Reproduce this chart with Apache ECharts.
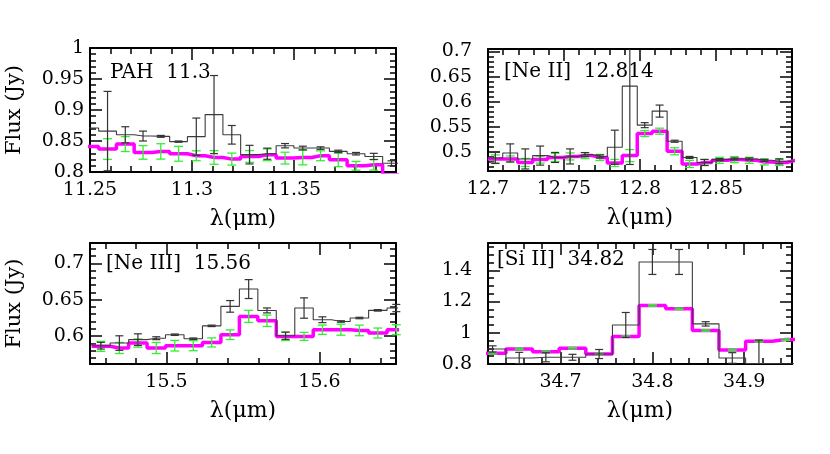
<!DOCTYPE html>
<html>
<head>
<meta charset="utf-8">
<script src="https://cdn.jsdelivr.net/npm/echarts@6/dist/echarts.min.js"></script>
<style>
  html, body { margin: 0; padding: 0; background: #fff; }
  #chart { width: 830px; height: 454px; }
</style>
</head>
<body>
<div id="chart"></div>
<script>
// PAH 11.3
const pahWave = [11.2499, 11.2586, 11.2673, 11.2760, 11.2847, 11.2934, 11.3021, 11.3108, 11.3195,
  11.3282, 11.3369, 11.3456, 11.3543, 11.3630, 11.3717, 11.3804, 11.3891, 11.3978];
const pahFlux = [0.871, 0.866, 0.860, 0.858, 0.8575, 0.849, 0.857, 0.8926, 0.860,
  0.828, 0.8295, 0.8424, 0.8386, 0.8386, 0.8332, 0.8295, 0.8251, 0.814];
const pahErr = [0, 0.064, 0.013, 0.008, 0.0015, 0.001, 0.030, 0.063, 0.015,
  0.015, 0.009, 0.0035, 0.003, 0.002, 0.002, 0.002, 0.005, 0.004];
const pahModel = [0.8413, 0.837, 0.845, 0.8316, 0.8332, 0.8294, 0.8262, 0.8235, 0.8208,
  0.8251, 0.8278, 0.8224, 0.8235, 0.8262, 0.8197, 0.810, 0.8116, 0.795];
const pahModelErr = [0, 0.0167, 0.012, 0.011, 0.0124, 0.012, 0.008, 0.011, 0.0097,
  0.0095, 0.0095, 0.0095, 0.012, 0.008, 0.011, 0.007, 0.0086, 0];

// [Ne II] 12.814
const ne2Wave = [12.7048, 12.7146, 12.7245, 12.7343, 12.7441, 12.7540, 12.7638, 12.7736, 12.7834,
  12.7933, 12.8031, 12.8129, 12.8228, 12.8326, 12.8424, 12.8523, 12.8621, 12.8719, 12.8818,
  12.8916, 12.9014];
const ne2Flux = [0.488, 0.498, 0.486, 0.4927, 0.489, 0.491, 0.4947, 0.491, 0.5093,
  0.631, 0.5533, 0.5813, 0.5213, 0.489, 0.479, 0.4847, 0.486, 0.486, 0.4833,
  0.4813, 0.4813];
const ne2Err = [0.011, 0.018, 0.02, 0.019, 0.01, 0.015, 0.004, 0.003, 0.034,
  0.156, 0.005, 0.012, 0.002, 0.002, 0.006, 0.002, 0.002, 0.002, 0.002,
  0.005, 0.002];
const ne2Model = [0.486, 0.486, 0.479, 0.4847, 0.489, 0.491, 0.4927, 0.489, 0.478,
  0.4927, 0.5367, 0.5413, 0.5013, 0.476, 0.479, 0.4833, 0.4847, 0.4833, 0.480,
  0.479, 0.4827];
const ne2ModelErr = [0.008, 0.006, 0.008, 0.007, 0.008, 0.007, 0.006, 0.006, 0.007,
  0.012, 0.006, 0.006, 0.007, 0.007, 0.006, 0.006, 0.006, 0.006, 0.006,
  0.006, 0.006];

// [Ne III] 15.56
const ne3Wave = [15.4571, 15.4692, 15.4813, 15.4933, 15.5054, 15.5175, 15.5295, 15.5416, 15.5537,
  15.5657, 15.5778, 15.5899, 15.6019, 15.6140, 15.6261, 15.6381, 15.6502];
const ne3Flux = [0.5867, 0.5903, 0.595, 0.597, 0.6018, 0.5963, 0.614, 0.6408, 0.6646,
  0.6352, 0.6004, 0.6385, 0.6224, 0.620, 0.6248, 0.6353, 0.6385];
const ne3Err = [0.0046, 0.010, 0.008, 0.002, 0.001, 0.001, 0.001, 0.008, 0.013,
  0.0034, 0.005, 0.014, 0.004, 0.001, 0.001, 0.001, 0.005];
const ne3Model = [0.5858, 0.5835, 0.5903, 0.5835, 0.5867, 0.5867, 0.5912, 0.6018, 0.627,
  0.621, 0.5995, 0.5995, 0.6087, 0.6087, 0.6077, 0.6041, 0.6087];
const ne3ModelErr = [0.0069, 0.0076, 0.0057, 0.0076, 0.0073, 0.0069, 0.0062, 0.0066, 0.0083,
  0.0078, 0.0057, 0.0055, 0.0064, 0.0076, 0.0073, 0.0069, 0.0069];

// [Si II] 34.82
const si2Wave = [34.626, 34.655, 34.684, 34.713, 34.742, 34.771, 34.800, 34.829, 34.858,
  34.887, 34.916, 34.945];
const si2Flux = [0.8964, 0.8386, 0.843, 0.843, 0.864, 1.05, 1.4536, 1.4536, 1.057,
  0.8386, 0.803, 0.802];
const si2Err = [0.02, 0.036, 0.029, 0.019, 0.029, 0.08, 0.08, 0.08, 0.014,
  0.034, 0.15, 0];
const si2Model = [0.8686, 0.8964, 0.879, 0.9007, 0.864, 0.9755, 1.175, 1.1533, 1.014,
  0.8898, 0.9455, 0.9563];
const si2ModelErr = [0.005, 0.005, 0.005, 0.005, 0.005, 0.005, 0.005, 0.005, 0.005,
  0.005, 0.005, 0.005];

// tick labels
const pahXTicks = [11.25, 11.3, 11.35];
const pahYTicks = [0.8, 0.85, 0.9, 0.95, 1];
const ne2XTicks = [12.7, 12.75, 12.8, 12.85];
const ne2YTicks = [0.5, 0.55, 0.6, 0.65, 0.7];
const ne3XTicks = [15.5, 15.6];
const ne3YTicks = [0.6, 0.65, 0.7];
const si2XTicks = [34.7, 34.8, 34.9];
const si2YTicks = [0.8, 1, 1.2, 1.4];

const panelLabels = ["PAH  11.3", "[Ne II]  12.814", "[Ne III]  15.56", "[Si II]  34.82"];

const FONT = "DejaVu Serif";

const panels = [
  {
    wave: pahWave, flux: pahFlux, err: pahErr, model: pahModel, modelErr: pahModelErr,
    xTicks: pahXTicks, yTicks: pahYTicks, label: panelLabels[0],
    grid: { left: 90, top: 48, width: 306, height: 124 },
    x: { min: 11.25, max: 11.40, step: 0.05, minor: 5 },
    y: { min: 0.8, max: 1.0, step: 0.05, minor: 5 },
    yMargin: 6, labelPos: [110, 72.5], yTitle: true,
  },
  {
    wave: ne2Wave, flux: ne2Flux, err: ne2Err, model: ne2Model, modelErr: ne2ModelErr,
    xTicks: ne2XTicks, yTicks: ne2YTicks, label: panelLabels[1],
    grid: { left: 488, top: 49, width: 304, height: 122 },
    x: { min: 12.70, max: 12.90, step: 0.05, minor: 5 },
    y: { min: 0.462, max: 0.705, step: 0.05, minor: 5 },
    yMargin: 16, labelPos: [504, 72], yTitle: false,
  },
  {
    wave: ne3Wave, flux: ne3Flux, err: ne3Err, model: ne3Model, modelErr: ne3ModelErr,
    xTicks: ne3XTicks, yTicks: ne3YTicks, label: panelLabels[2],
    grid: { left: 90, top: 243, width: 306, height: 121 },
    x: { min: 15.45, max: 15.65, step: 0.1, minor: 5 },
    y: { min: 0.5615, max: 0.728, step: 0.05, minor: 5 },
    yMargin: 6, labelPos: [106, 263.5], yTitle: true,
  },
  {
    wave: si2Wave, flux: si2Flux, err: si2Err, model: si2Model, modelErr: si2ModelErr,
    xTicks: si2XTicks, yTicks: si2YTicks, label: panelLabels[3],
    grid: { left: 488, top: 243, width: 304, height: 121 },
    x: { min: 34.621, max: 34.952, step: 0.1, minor: 5 },
    y: { min: 0.8, max: 1.575, step: 0.2, minor: 4 },
    yMargin: 16, labelPos: [497, 260], yTitle: false,
  },
];

function stepLine(wave, vals) {
  const half = (wave[1] - wave[0]) / 2;
  const pts = wave.map((w, i) => [w, vals[i]]);
  pts.unshift([wave[0] - half, vals[0]]);
  pts.push([wave[wave.length - 1] + half, vals[vals.length - 1]]);
  return pts;
}

function errRender(capHalf, color, width) {
  return function (params, api) {
    const e = api.value(2);
    if (!e) return;
    const x = api.value(0);
    const y = api.value(1);
    const cs = params.coordSys;
    const px = api.coord([x, y])[0];
    if (px < cs.x - 1 || px > cs.x + cs.width + 1) return;
    const lo = api.coord([x, y - e]);
    const hi = api.coord([x, y + e]);
    const top = cs.y;
    const bottom = cs.y + cs.height;
    const style = { stroke: color, lineWidth: width };
    const y1 = Math.min(lo[1], bottom);
    const y2 = Math.max(hi[1], top);
    if (y2 >= bottom || y1 <= top) return;
    const children = [
      { type: "line", shape: { x1: lo[0], y1: y1, x2: lo[0], y2: y2 }, style },
    ];
    if (lo[1] <= bottom) {
      children.push({ type: "line", shape: { x1: lo[0] - capHalf, y1: lo[1], x2: lo[0] + capHalf, y2: lo[1] }, style });
    }
    if (hi[1] >= top) {
      children.push({ type: "line", shape: { x1: hi[0] - capHalf, y1: hi[1], x2: hi[0] + capHalf, y2: hi[1] }, style });
    }
    return { type: "group", children };
  };
}

function hasTick(list, v) {
  return list.some((t) => Math.abs(t - v) < 1e-6);
}

function makeAxis(range, ticks, opts) {
  return {
    type: "value",
    gridIndex: opts.grid,
    position: opts.position,
    min: range.min,
    max: range.max,
    minInterval: range.step,
    maxInterval: range.step,
    axisLine: { show: true, onZero: false, lineStyle: { color: "#000", width: 2 } },
    axisTick: { show: true, inside: true, length: 12, lineStyle: { color: "#000", width: 1.5 } },
    minorTick: { show: true, splitNumber: range.minor, length: 6, lineStyle: { color: "#000", width: 1.5 } },
    splitLine: { show: false },
    minorSplitLine: { show: false },
    axisLabel: {
      show: opts.labels,
      margin: opts.margin,
      color: "#000",
      fontFamily: FONT,
      fontSize: 19,
      showMinLabel: true,
      showMaxLabel: true,
      hideOverlap: false,
      formatter: (v) => (hasTick(ticks, v) ? String(+v.toFixed(3)) : ""),
    },
  };
}

const xAxes = [];
const yAxes = [];
const grids = [];
const series = [];
const graphics = [];

panels.forEach((p, i) => {
  grids.push(Object.assign({ show: false }, p.grid));
  xAxes.push(makeAxis(p.x, p.xTicks, { grid: i, position: "bottom", labels: true, margin: 9 }));
  xAxes.push(makeAxis(p.x, [], { grid: i, position: "top", labels: false, margin: 8 }));
  yAxes.push(makeAxis(p.y, p.yTicks, { grid: i, position: "left", labels: true, margin: p.yMargin }));
  yAxes.push(makeAxis(p.y, [], { grid: i, position: "right", labels: false, margin: 8 }));
  const xi = i * 2;
  const yi = i * 2;

  series.push({
    type: "line", xAxisIndex: xi, yAxisIndex: yi, step: "middle",
    data: stepLine(p.wave, p.model), symbol: "none", silent: true,
    lineStyle: { color: "#ff00ff", width: 3.5 }, z: 2,
  });
  series.push({
    type: "custom", xAxisIndex: xi, yAxisIndex: yi, silent: true,
    data: p.wave.map((w, k) => [w, p.model[k], p.modelErr[k]]),
    renderItem: errRender(4.5, "#33ee33", 1.3), z: 3,
  });
  series.push({
    type: "line", xAxisIndex: xi, yAxisIndex: yi, step: "middle",
    data: stepLine(p.wave, p.flux), symbol: "none", silent: true,
    lineStyle: { color: "#3c3c3c", width: 1.1 }, z: 4,
  });
  series.push({
    type: "custom", xAxisIndex: xi, yAxisIndex: yi, silent: true,
    data: p.wave.map((w, k) => [w, p.flux[k], p.err[k]]),
    renderItem: errRender(4, "#333", 1.2), z: 5,
  });

  graphics.push({
    type: "text", x: p.labelPos[0], y: p.labelPos[1],
    style: { text: p.label, fill: "#000", font: `20px "${FONT}"`, textAlign: "left", textVerticalAlign: "middle" },
  });
  graphics.push({
    type: "text", x: p.grid.left + p.grid.width / 2, y: p.grid.top + p.grid.height + 47,
    style: { text: "λ(μm)", fill: "#000", font: `22px "${FONT}"`, textAlign: "center", textVerticalAlign: "middle" },
  });
  if (p.yTitle) {
    graphics.push({
      type: "text", x: 15, y: p.grid.top + p.grid.height / 2, rotation: Math.PI / 2,
      style: { text: "Flux (Jy)", fill: "#000", font: `21px "${FONT}"`, textAlign: "center", textVerticalAlign: "middle" },
    });
  }
});

const chart = echarts.init(document.getElementById("chart"));
chart.setOption({
  animation: false,
  backgroundColor: "#fff",
  grid: grids,
  xAxis: xAxes,
  yAxis: yAxes,
  series: series,
  graphic: graphics,
});
</script>
</body>
</html>
